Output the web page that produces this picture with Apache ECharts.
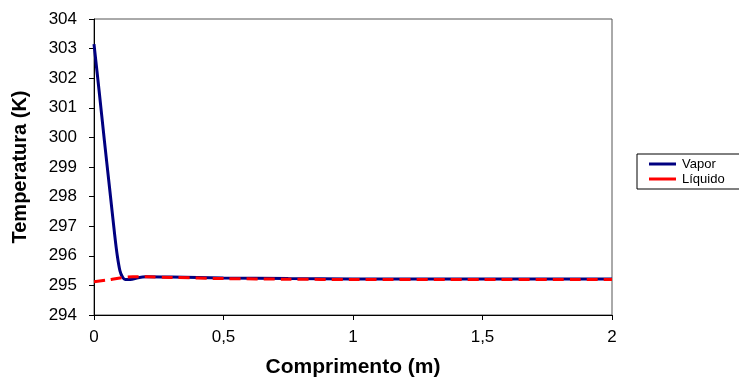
<!DOCTYPE html>
<html>
<head>
<meta charset="utf-8">
<script src="https://cdn.jsdelivr.net/npm/echarts@6/dist/echarts.min.js"></script>
<style>
  html, body { margin: 0; padding: 0; background: #fff; overflow: hidden; }
  #chart { width: 739px; height: 379px; }
</style>
</head>
<body>
<div id="chart"></div>
<script>
// Temperature profiles along the length (m)
const vaporX = [0, 0.02, 0.04, 0.06, 0.08, 0.09, 0.1, 0.11, 0.12, 0.14, 0.17, 0.2, 0.3, 0.5, 0.75, 1, 1.5, 2];
const vaporT = [303.15, 301.55, 299.9, 298.3, 296.7, 296.0, 295.5, 295.28, 295.2, 295.2, 295.26, 295.29, 295.28, 295.25, 295.23, 295.22, 295.22, 295.22];
const liquidoX = [0, 0.05, 0.1, 0.15, 0.2, 0.3, 0.5, 0.75, 1, 1.5, 2];
const liquidoT = [295.12, 295.18, 295.25, 295.29, 295.29, 295.27, 295.23, 295.21, 295.2, 295.2, 295.2];
const xTicks = [0, 0.5, 1, 1.5, 2];
const yRange = [294, 304];

const pair = (xs, ys) => xs.map((x, i) => [x, ys[i]]);
const font = 'Liberation Sans, Arial, sans-serif';

const chart = echarts.init(document.getElementById('chart'), null, { renderer: 'canvas' });
chart.setOption({
  animation: false,
  backgroundColor: '#fff',
  grid: {
    left: 94, top: 19, right: 127, bottom: 64,
    outerBoundsMode: 'none',
    containLabel: false,
    show: true, borderColor: '#555', borderWidth: 1, backgroundColor: 'transparent'
  },
  legend: {
    left: 637, top: 154,
    orient: 'vertical',
    borderColor: '#000', borderWidth: 1, borderRadius: 0,
    padding: [3, 30, 3, 12],
    itemGap: 1,
    itemWidth: 27, itemHeight: 3,
    icon: 'rect',
    textStyle: { fontFamily: font, fontSize: 13, color: '#000', lineHeight: 14, padding: [0, 0, 0, 1] },
    data: [
      { name: 'Vapor', itemStyle: { color: '#000080' } },
      { name: 'Líquido', itemStyle: { color: '#ff0000' } }
    ]
  },
  xAxis: {
    type: 'value',
    min: xTicks[0], max: xTicks[xTicks.length - 1], interval: 0.5,
    name: 'Comprimento (m)',
    nameLocation: 'middle', nameGap: 42,
    nameTextStyle: { fontFamily: font, fontSize: 21, fontWeight: 'bold', color: '#000' },
    axisLine: { show: true, onZero: false, lineStyle: { color: '#000', width: 1 } },
    axisTick: { show: true, length: 5, lineStyle: { color: '#000' } },
    axisLabel: {
      fontFamily: font, fontSize: 17, color: '#000', margin: 14,
      formatter: v => String(v).replace('.', ',')
    },
    splitLine: { show: false }
  },
  yAxis: {
    type: 'value',
    min: yRange[0], max: yRange[1], interval: 1,
    name: 'Temperatura (K)',
    nameLocation: 'middle', nameGap: 64,
    nameTextStyle: { fontFamily: font, fontSize: 20, fontWeight: 'bold', color: '#000' },
    axisLine: { show: true, lineStyle: { color: '#000', width: 1 } },
    axisTick: { show: true, length: 5, lineStyle: { color: '#000' } },
    axisLabel: { fontFamily: font, fontSize: 17, color: '#000', margin: 17 },
    splitLine: { show: false }
  },
  series: [
    {
      name: 'Vapor', type: 'line',
      data: pair(vaporX, vaporT),
      smooth: 0.3, showSymbol: false, symbol: 'none',
      lineStyle: { color: '#000080', width: 3 },
      itemStyle: { color: '#000080' },
      z: 2
    },
    {
      name: 'Líquido', type: 'line',
      data: pair(liquidoX, liquidoT),
      smooth: 0.3, showSymbol: false, symbol: 'none',
      lineStyle: { color: '#ff0000', width: 3, type: [11, 6] },
      itemStyle: { color: '#ff0000' },
      z: 3
    }
  ]
});
</script>
</body>
</html>
